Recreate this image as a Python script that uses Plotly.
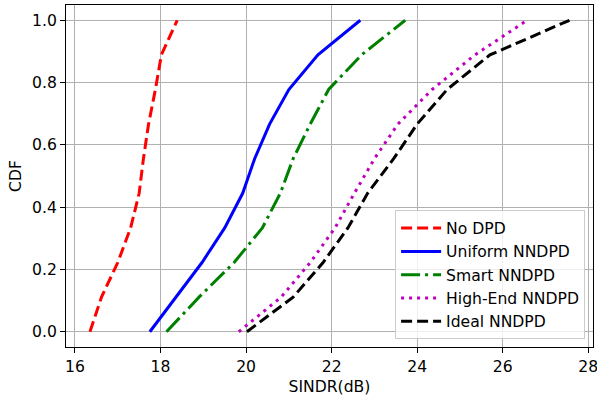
import plotly.graph_objects as go

cdf = [0.0, 1/9, 2/9, 3/9, 4/9, 5/9, 6/9, 7/9, 8/9, 1.0]

no_dpd = [16.35, 16.62, 17.0, 17.3, 17.5, 17.6, 17.72, 17.88, 18.02, 18.39]
uniform = [17.75, 18.35, 18.97, 19.5, 19.92, 20.2, 20.55, 21.0, 21.68, 22.67]
smart = [18.14, 18.9, 19.72, 20.38, 20.8, 21.1, 21.5, 21.93, 22.7, 23.72]
high_end = [19.83, 20.82, 21.5, 22.08, 22.53, 23.0, 23.55, 24.35, 25.35, 26.57]
ideal = [20.02, 21.1, 21.8, 22.38, 22.84, 23.45, 24.0, 24.7, 25.7, 27.56]

names = ["No DPD", "Uniform NNDPD", "Smart NNDPD", "High-End NNDPD", "Ideal NNDPD"]
series = [no_dpd, uniform, smart, high_end, ideal]
colors = ["#ff0000", "#0000ff", "#008000", "#bf00bf", "#000000"]
dashes = ["11px,5px", "solid", "19px,5px,3px,5px", "3px,5px", "11px,5px"]

x_ticks = [16, 18, 20, 22, 24, 26, 28]
y_ticks = [0.0, 0.2, 0.4, 0.6, 0.8, 1.0]

fig = go.Figure()
for i, (n, s, c, d) in enumerate(zip(names, series, colors, dashes)):
    fig.add_trace(go.Scatter(x=s, y=cdf, mode="lines", name=n, legendgroup=f"g{i}",
                             line=dict(color=c, width=3, dash=d)))

font = dict(family="DejaVu Sans", size=15.6, color="black")
fig.update_layout(
    width=597, height=397,
    margin=dict(l=66, r=4, t=5, b=50),
    paper_bgcolor="white", plot_bgcolor="white",
    font=font,
    legend=dict(x=0.985, y=0.022, xanchor="right", yanchor="bottom",
                bgcolor="rgba(255,255,255,0.8)", bordercolor="#cccccc",
                borderwidth=1, font=dict(family="DejaVu Sans", size=15.6),
                itemwidth=40, tracegroupgap=0),
)
fig.update_xaxes(range=[15.79, 28.11], tickvals=x_ticks, ticktext=[str(t) for t in x_ticks],
                 showgrid=True, gridcolor="#b0b0b0", gridwidth=1,
                 showline=True, linecolor="black", linewidth=1, mirror=True,
                 ticks="outside", ticklen=5, tickcolor="black", zeroline=False,
                 ticklabeloverflow="allow", automargin=False,
                 title=dict(text="SINDR(dB)", font=font, standoff=6))
fig.update_yaxes(range=[-0.049, 1.049], tickvals=y_ticks, ticktext=[f"{t:.1f}" for t in y_ticks],
                 showgrid=True, gridcolor="#b0b0b0", gridwidth=1,
                 showline=True, linecolor="black", linewidth=1, mirror=True,
                 ticks="outside", ticklen=5, tickcolor="black", zeroline=False,
                 ticklabeloverflow="allow", automargin=False,
                 title=dict(text="CDF", font=font, standoff=6))

fig.write_html("out.html")
